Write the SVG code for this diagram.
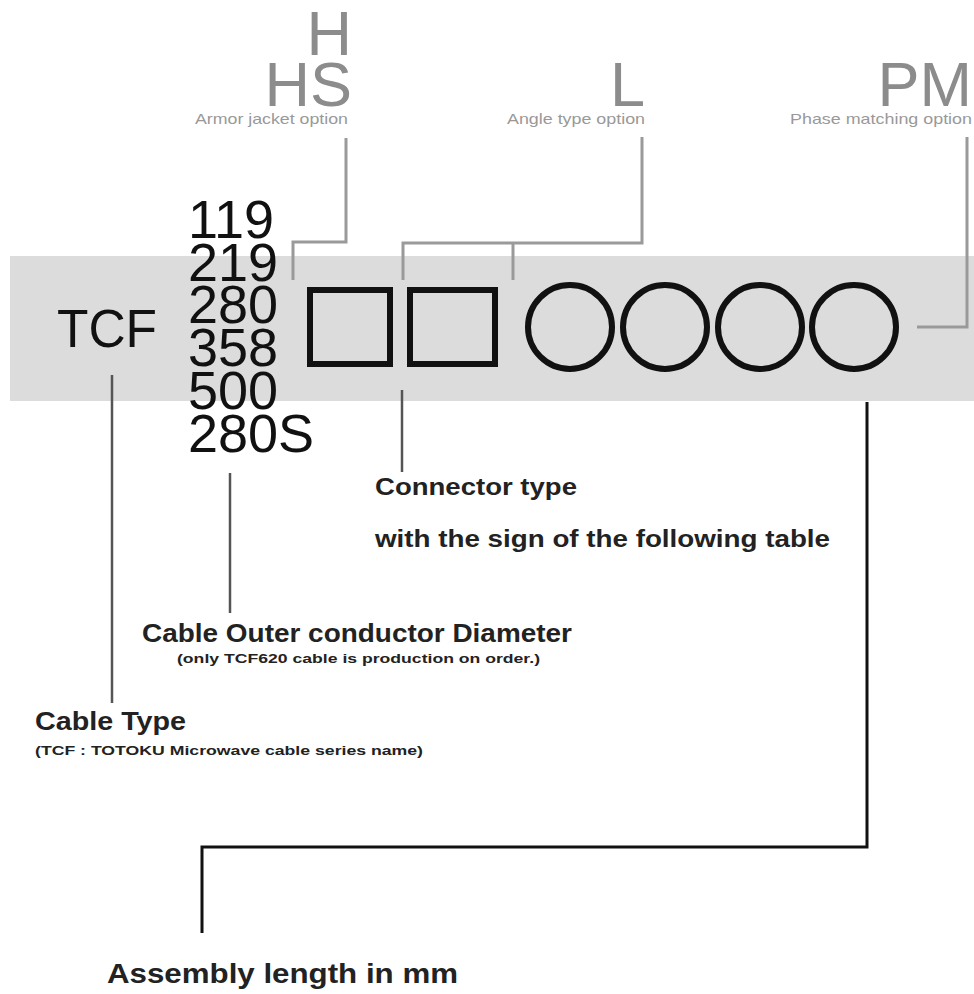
<svg xmlns="http://www.w3.org/2000/svg" width="974" height="994" viewBox="0 0 974 994">
<style>
.big{font-family:"Liberation Sans",Arial,sans-serif;fill:#8c8c8c;font-size:63px}
.small{font-family:"Liberation Sans",Arial,sans-serif;fill:#999;font-size:15px}
.num{font-family:"Liberation Sans",Arial,sans-serif;fill:#111;font-size:54px}
.lbl{font-family:"Liberation Sans",Arial,sans-serif;fill:#222;font-weight:bold}
.gl{fill:none;stroke:#9a9a9a;stroke-width:3}
.dl{fill:none;stroke:#555;stroke-width:2.5}
.bl{fill:none;stroke:#111;stroke-width:3}
.box{fill:none;stroke:#111;stroke-width:6}
</style>
<rect x="10" y="256" width="964" height="145" fill="#dcdcdc"/>
<g id="connectors">
<path class="gl" d="M346 138 V242 H293 V280"/>
<path class="gl" d="M642 137 V243 H403 V280"/>
<path class="gl" d="M513 243 V280"/>
<path class="gl" d="M967 137 V327 H917"/>
<path class="dl" d="M112 375 V703"/>
<path class="dl" d="M230 473 V613"/>
<path class="dl" d="M402 390 V472"/>
<path class="bl" d="M867 402 V847 H202 V933"/>
</g>
<g id="armor">
<text class="big" x="352" y="55" text-anchor="end">H</text>
<text class="big" x="352" y="106" text-anchor="end">HS</text>
<text class="small" x="195" y="124" textLength="153" lengthAdjust="spacingAndGlyphs">Armor jacket option</text>
</g>
<g id="angle">
<text class="big" x="645" y="106" text-anchor="end">L</text>
<text class="small" x="507" y="124" textLength="138" lengthAdjust="spacingAndGlyphs">Angle type option</text>
</g>
<g id="phase">
<text class="big" x="972" y="106" text-anchor="end">PM</text>
<text class="small" x="790" y="124" textLength="182" lengthAdjust="spacingAndGlyphs">Phase matching option</text>
</g>
<g id="tcf">
<text class="num" x="57" y="347" font-size="55" textLength="100" lengthAdjust="spacingAndGlyphs">TCF</text>
</g>
<g id="diameters">
<text class="num" x="188" y="238">119</text>
<text class="num" x="188" y="281">219</text>
<text class="num" x="188" y="323">280</text>
<text class="num" x="188" y="366">358</text>
<text class="num" x="188" y="409">500</text>
<text class="num" x="188" y="452">280S</text>
</g>
<g id="connector-boxes">
<rect class="box" x="310" y="290" width="80" height="74"/>
<rect class="box" x="410" y="290" width="85" height="74"/>
</g>
<g id="length-circles">
<circle class="box" cx="570" cy="327" r="42"/>
<circle class="box" cx="665" cy="327" r="42"/>
<circle class="box" cx="760" cy="327" r="42"/>
<circle class="box" cx="854" cy="327" r="42"/>
</g>
<g id="connector-label">
<text class="lbl" x="375" y="495" font-size="24" textLength="202" lengthAdjust="spacingAndGlyphs">Connector type</text>
<text class="lbl" x="375" y="547" font-size="24" textLength="455" lengthAdjust="spacingAndGlyphs">with the sign of the following table</text>
</g>
<g id="diameter-label">
<text class="lbl" x="142" y="642" font-size="26" textLength="430" lengthAdjust="spacingAndGlyphs">Cable Outer conductor Diameter</text>
<text class="lbl" x="177" y="663" font-size="13" textLength="363" lengthAdjust="spacingAndGlyphs">(only TCF620 cable is production on order.)</text>
</g>
<g id="type-label">
<text class="lbl" x="35" y="730" font-size="26" textLength="151" lengthAdjust="spacingAndGlyphs">Cable Type</text>
<text class="lbl" x="35" y="755" font-size="13" textLength="388" lengthAdjust="spacingAndGlyphs">(TCF : TOTOKU Microwave cable series name)</text>
</g>
<g id="length-label">
<text class="lbl" x="107" y="983" font-size="28" textLength="351" lengthAdjust="spacingAndGlyphs">Assembly length in mm</text>
</g>
</svg>
